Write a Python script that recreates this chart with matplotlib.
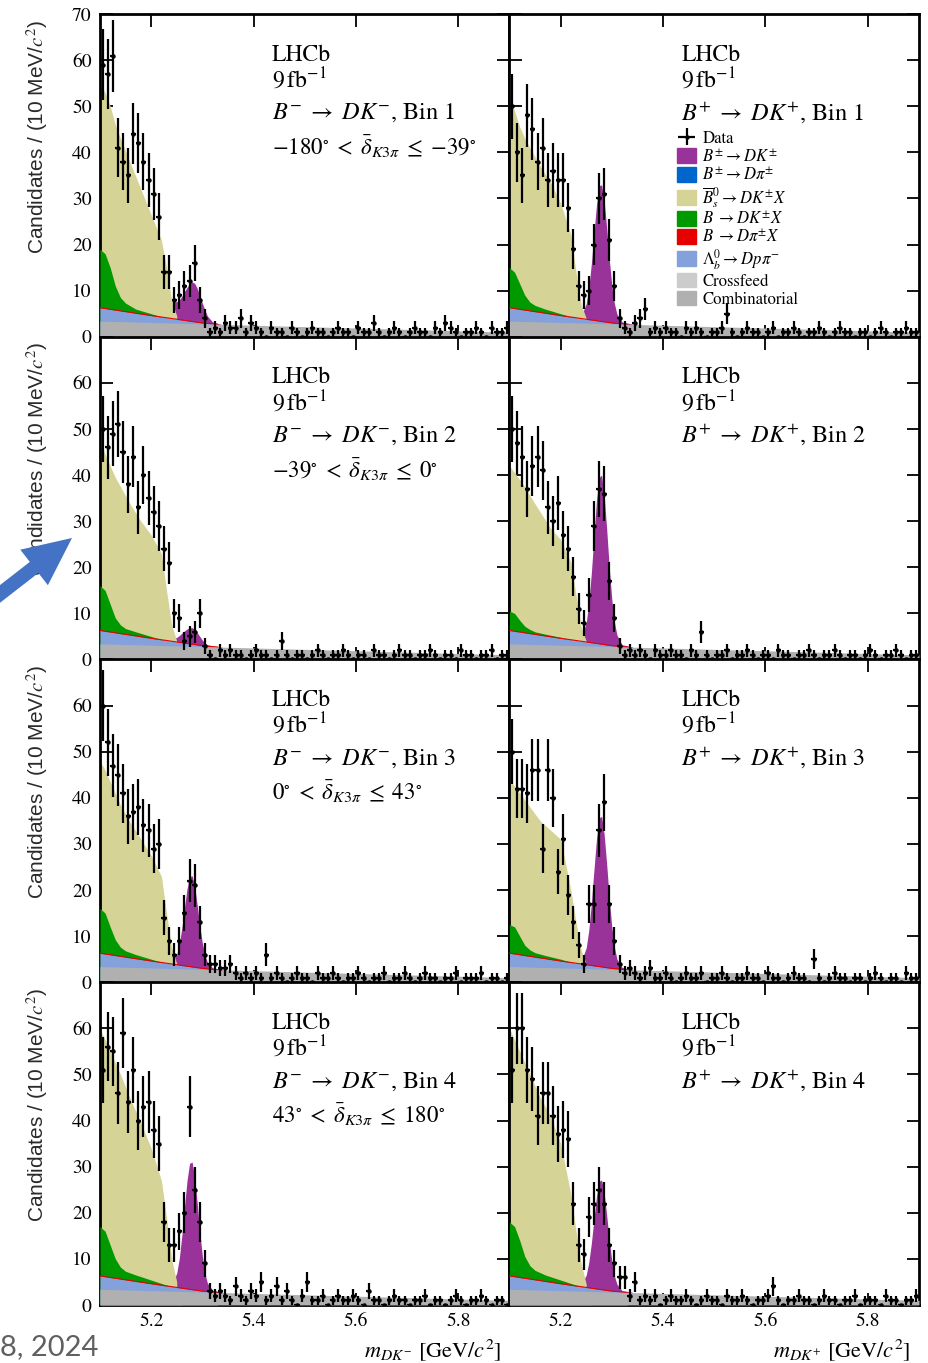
import numpy as np
import matplotlib
matplotlib.use("Agg")
import matplotlib.pyplot as plt
from matplotlib.patches import Patch, FancyArrow

plt.rcParams['font.family'] = 'STIXGeneral'
plt.rcParams['mathtext.fontset'] = 'stix'

# 80 bins of 10 MeV between 5.1 and 5.9 GeV
bin_centres = np.round(np.arange(5.105, 5.9, 0.01), 3)

# data counts per bin
counts_m1 = [59, 57, 61, 41, 38, 35, 44, 42, 38, 34,
             31, 26, 14, 14, 8, 9, 11, 12, 16, 8,
             4, 1, 2, 1, 3, 2, 2, 4, 1, 3,
             2, 1, 0, 2, 1, 1, 0, 2, 1, 0,
             1, 2, 1, 1, 0, 1, 2, 1, 1, 0,
             2, 1, 1, 3, 1, 0, 1, 2, 1, 0,
             1, 2, 1, 1, 0, 2, 1, 3, 2, 1,
             0, 1, 1, 2, 1, 0, 2, 1, 1, 2]
counts_p1 = [50, 40, 35, 48, 45, 38, 41, 34, 36, 34,
             34, 28, 19, 11, 9, 10, 20, 30, 31, 21,
             11, 4, 2, 1, 3, 4, 6, 1, 2, 1,
             2, 1, 1, 0, 2, 1, 2, 1, 0, 1,
             1, 2, 5, 1, 0, 1, 2, 1, 1, 0,
             1, 2, 0, 1, 1, 2, 1, 0, 1, 1,
             2, 1, 0, 1, 2, 1, 1, 0, 1, 1,
             0, 1, 2, 1, 0, 1, 1, 2, 1, 1]
counts_m2 = [50, 46, 49, 51, 45, 38, 44, 33, 40, 35,
             32, 29, 24, 21, 10, 9, 4, 5, 6, 10,
             3, 1, 0, 2, 1, 2, 1, 1, 0, 1,
             2, 1, 1, 0, 1, 4, 1, 0, 1, 1,
             0, 1, 2, 1, 0, 1, 1, 2, 1, 0,
             1, 1, 0, 2, 1, 1, 0, 1, 2, 1,
             1, 0, 1, 1, 2, 1, 0, 1, 1, 0,
             2, 1, 1, 0, 1, 1, 2, 0, 1, 1]
counts_p2 = [50, 47, 44, 37, 42, 44, 41, 33, 30, 34,
             27, 24, 18, 11, 8, 14, 29, 37, 36, 17,
             9, 3, 1, 2, 1, 2, 1, 0, 2, 1,
             1, 2, 1, 1, 0, 2, 1, 6, 1, 0,
             1, 1, 2, 0, 1, 1, 2, 1, 0, 1,
             1, 0, 2, 1, 1, 0, 1, 1, 2, 1,
             0, 1, 1, 2, 1, 0, 1, 1, 0, 1,
             2, 1, 0, 1, 1, 2, 1, 0, 1, 1]
counts_m3 = [60, 52, 47, 45, 41, 36, 37, 38, 34, 33,
             29, 30, 14, 9, 6, 9, 15, 22, 21, 13,
             6, 4, 4, 3, 3, 4, 2, 1, 2, 1,
             2, 1, 6, 1, 2, 1, 0, 1, 2, 1,
             1, 0, 2, 1, 1, 2, 1, 0, 1, 1,
             2, 1, 0, 1, 1, 2, 0, 1, 1, 2,
             1, 0, 1, 2, 1, 1, 0, 1, 1, 2,
             0, 1, 1, 1, 2, 0, 1, 1, 0, 1]
counts_p3 = [50, 42, 42, 41, 46, 46, 29, 46, 40, 24,
             31, 19, 13, 8, 4, 17, 17, 33, 39, 17,
             9, 4, 2, 3, 2, 1, 2, 3, 1, 1,
             2, 1, 0, 1, 2, 1, 1, 2, 0, 1,
             1, 2, 1, 0, 1, 1, 2, 1, 1, 0,
             2, 1, 1, 0, 1, 2, 1, 1, 0, 5,
             1, 0, 1, 2, 1, 1, 0, 1, 1, 0,
             1, 2, 1, 0, 1, 1, 0, 2, 1, 1]
counts_m4 = [51, 56, 55, 46, 59, 44, 51, 40, 43, 44,
             38, 35, 18, 13, 13, 16, 20, 43, 25, 18,
             9, 3, 2, 3, 2, 1, 4, 2, 1, 3,
             2, 5, 1, 2, 4, 1, 3, 1, 0, 2,
             5, 1, 1, 2, 0, 1, 2, 1, 1, 2,
             1, 0, 3, 1, 1, 0, 1, 2, 1, 1,
             0, 1, 1, 2, 0, 1, 1, 0, 1, 2,
             1, 0, 1, 1, 2, 1, 0, 1, 1, 0]
counts_p4 = [51, 60, 60, 51, 49, 41, 46, 46, 41, 37,
             38, 36, 22, 13, 11, 19, 22, 25, 22, 13,
             9, 6, 6, 2, 5, 1, 2, 1, 2, 0,
             1, 2, 1, 1, 2, 1, 0, 1, 2, 1,
             1, 0, 2, 1, 1, 2, 1, 0, 1, 1,
             2, 4, 1, 0, 1, 1, 2, 1, 1, 0,
             1, 2, 1, 1, 0, 1, 1, 2, 0, 1,
             1, 1, 0, 2, 1, 1, 0, 1, 1, 2]

# fit components, cumulative height of each layer
bg_x = [5.10, 5.11, 5.12, 5.13, 5.14, 5.16, 5.18, 5.20, 5.22, 5.23, 5.24, 5.25]
yellow_m1 = [55, 53, 50, 46, 43, 37.5, 32, 26.5, 21, 15, 8, 4.5]
yellow_p1 = [52, 49, 45.5, 43, 41, 37, 33.5, 29, 22, 14, 7, 4]
yellow_m2 = [47.5, 44.5, 42, 39.5, 37.5, 33.5, 30, 27, 23, 15, 7.5, 4]
yellow_p2 = [42, 40.5, 39, 37.5, 35.5, 32, 28.5, 26, 21, 14, 7, 4]
yellow_m3 = [48, 46, 43.5, 41, 38.5, 34.5, 31, 27.5, 23, 15, 7.5, 4]
yellow_p3 = [44, 42.5, 41, 39.5, 38, 35, 33, 31, 20, 13, 7, 4]
yellow_m4 = [60, 57.5, 55, 52.5, 50, 44.5, 39.5, 34, 27, 19, 10, 5]
yellow_p4 = [60, 57.5, 55, 52.5, 50, 45, 41, 35, 24, 16, 9, 4.5]

green_x = [5.10, 5.11, 5.12, 5.13, 5.14, 5.15, 5.17, 5.20, 5.23, 5.26]
green_m1 = [19, 18, 15, 11, 8.5, 7.3, 6.0, 5.0, 4.0, 3.2]
green_p1 = [15, 14, 11.5, 9, 7.5, 6.8, 6.0, 5.0, 4.0, 3.2]
green_m2 = [16, 15, 12, 9, 7.5, 6.7, 6.0, 5.0, 4.0, 3.2]
green_p2 = [10.5, 10, 8.5, 7.2, 6.5, 6.0, 5.5, 4.8, 4.0, 3.2]
green_m3 = [16, 15, 12, 9.2, 7.6, 6.8, 6.0, 5.0, 4.0, 3.2]
green_p3 = [12.5, 12, 10, 8, 7, 6.4, 5.8, 5.0, 4.0, 3.2]
green_m4 = [17, 16, 13, 10, 8.2, 7.3, 6.5, 5.4, 4.3, 3.4]
green_p4 = [18, 17, 14, 10.5, 8.5, 7.5, 6.5, 5.4, 4.3, 3.4]

peak_x = [5.23, 5.24, 5.25, 5.255, 5.26, 5.265, 5.27, 5.275, 5.28,
          5.285, 5.29, 5.295, 5.30, 5.305, 5.31, 5.32, 5.34]
peak_m1 = [0, 7.5, 7.6, 8.0, 8.8, 9.8, 10.7, 11.5, 11.9, 11.6, 10.5, 9.0, 7.3, 5.8, 4.5, 3.2, 2.6]
peak_p1 = [0, 4.4, 7.2, 10.6, 15.9, 22.4, 28.6, 32.7, 33.0, 29.5, 23.5, 16.8, 11.1, 7.2, 4.9, 3.2, 2.75]
peak_m2 = [0, 4.5, 4.8, 5.2, 5.7, 6.2, 6.6, 6.9, 6.9, 6.5, 5.8, 5.0, 4.2, 3.6, 3.2, 2.9, 2.6]
peak_p2 = [0, 4.5, 8.0, 12.3, 18.8, 26.8, 34.5, 39.5, 40.0, 35.6, 28.2, 19.9, 13.0, 8.1, 5.3, 3.2, 2.75]
peak_m3 = [0, 4.2, 6.0, 8.3, 11.8, 16.1, 20.2, 22.9, 23.1, 20.8, 16.7, 12.2, 8.5, 5.8, 4.3, 3.1, 2.75]
peak_p3 = [0, 4.4, 7.5, 11.3, 17.1, 24.3, 31.1, 35.6, 36.0, 32.1, 25.5, 18.1, 11.9, 7.6, 5.0, 3.2, 2.75]
peak_m4 = [0, 4.3, 6.9, 10.1, 15.1, 21.1, 26.9, 30.7, 31.0, 27.8, 22.1, 15.9, 10.6, 6.9, 4.7, 3.2, 2.75]
peak_p4 = [0, 4.3, 6.5, 9.2, 13.4, 18.6, 23.6, 26.8, 27.1, 24.3, 19.4, 14.0, 9.5, 6.3, 4.5, 3.1, 2.75]

lb_x = [5.10, 5.20, 5.30, 5.33]
lb_top = [6.3, 4.6, 3.0, 2.7]
comb_x = [5.10, 5.90]
comb_top = [3.4, 1.0]

bin_labels = [r'$-180^{\circ}\;<\;\bar{\delta}_{K3\pi}\;\leq\;{-39}^{\circ}$',
              r'$-39^{\circ}\;<\;\bar{\delta}_{K3\pi}\;\leq\;0^{\circ}$',
              r'$0^{\circ}\;<\;\bar{\delta}_{K3\pi}\;\leq\;43^{\circ}$',
              r'$43^{\circ}\;<\;\bar{\delta}_{K3\pi}\;\leq\;180^{\circ}$']

c_sig = '#993399'
c_dpi = '#0066cc'
c_part = '#d6d396'
c_dkx = '#009900'
c_dpix = '#e60000'
c_lb = '#84a1db'
c_cross = '#cccccc'
c_comb = '#b0b0b0'

panels = [
    (0, 0, counts_m1, yellow_m1, green_m1, peak_m1, '-', 1),
    (0, 1, counts_p1, yellow_p1, green_p1, peak_p1, '+', 1),
    (1, 0, counts_m2, yellow_m2, green_m2, peak_m2, '-', 2),
    (1, 1, counts_p2, yellow_p2, green_p2, peak_p2, '+', 2),
    (2, 0, counts_m3, yellow_m3, green_m3, peak_m3, '-', 3),
    (2, 1, counts_p3, yellow_p3, green_p3, peak_p3, '+', 3),
    (3, 0, counts_m4, yellow_m4, green_m4, peak_m4, '-', 4),
    (3, 1, counts_p4, yellow_p4, green_p4, peak_p4, '+', 4),
]

fig, axes = plt.subplots(4, 2, figsize=(9.29, 13.63), dpi=100, sharex=True,
                         gridspec_kw=dict(hspace=0, wspace=0))
fig.subplots_adjust(left=0.1076, right=0.9892, top=0.9897, bottom=0.0426)

data_handle = None
for row, col, counts, yellow, green, peak, charge, nbin in panels:
    ax = axes[row, col]
    counts = np.array(counts, dtype=float)
    # painter's order: each layer drawn from zero, lower layers on top
    ax.fill_between(peak_x, 0, peak, color=c_sig, lw=0, zorder=1)
    ax.fill_between(bg_x, 0, yellow, color=c_part, lw=0, zorder=2)
    ax.fill_between(green_x, 0, green, color=c_dkx, lw=0, zorder=3)
    ax.fill_between(lb_x, 0, lb_top, color=c_lb, lw=0, zorder=4)
    ax.plot(lb_x, lb_top, color=c_dpix, lw=0.8, zorder=5)
    ax.fill_between(comb_x, 0, comb_top, color=c_comb, lw=0, zorder=6)

    eb = ax.errorbar(bin_centres, counts, yerr=np.sqrt(counts), xerr=0.005,
                     fmt='o', ms=2.2, color='k', ecolor='k', elinewidth=1.6,
                     capsize=0, zorder=10)
    if row == 0 and col == 1:
        data_handle = eb

    ax.set_xlim(5.1, 5.9)
    ax.set_ylim(0, 70)
    ax.set_xticks([5.2, 5.4, 5.6, 5.8])
    ax.set_xticklabels(['5.2', '5.4', '5.6', '5.8'])
    ax.set_yticks(range(0, 71, 10))
    if row == 0:
        ax.set_yticklabels([str(v) for v in range(0, 71, 10)])
    else:
        ax.set_yticklabels([str(v) for v in range(0, 61, 10)] + [''])
    ax.tick_params(direction='in', length=9, width=1.3, top=True, right=True,
                   labelsize=14, pad=6)
    if col == 1:
        ax.tick_params(labelleft=False)
    for s in ax.spines.values():
        s.set_linewidth(2)

    ax.text(0.42, 0.873, 'LHCb', transform=ax.transAxes, fontsize=17, va='center')
    ax.text(0.42, 0.796, r'$9\,\mathrm{fb}^{-1}$', transform=ax.transAxes,
            fontsize=17, va='center')
    ax.text(0.42, 0.693, r'$B^{%s}\;\to\;DK^{%s}$, Bin %d' % (charge, charge, nbin),
            transform=ax.transAxes, fontsize=17.5, va='center')
    if col == 0:
        ax.text(0.42, 0.588, bin_labels[row], transform=ax.transAxes,
                fontsize=16.5, va='center')
        ax.set_ylabel('Candidates / (10 MeV/$c^{2}$)', fontfamily='Liberation Sans',
                      fontsize=15, color='#2a2a2a')
        ax.yaxis.set_label_coords(-0.122, 0.62)

axes[3, 0].set_xlabel(r'$m_{DK^{-}}$ [GeV/$c^{2}$]', fontsize=16, loc='right')
axes[3, 0].xaxis.set_label_coords(0.98, -0.1)
axes[3, 1].set_xlabel(r'$m_{DK^{+}}$ [GeV/$c^{2}$]', fontsize=16, loc='right')
axes[3, 1].xaxis.set_label_coords(0.98, -0.1)

handles = [data_handle,
           Patch(color=c_sig), Patch(color=c_dpi), Patch(color=c_part),
           Patch(color=c_dkx), Patch(color=c_dpix), Patch(color=c_lb),
           Patch(color=c_cross), Patch(color=c_comb)]
labels = ['Data',
          r'$B^{\pm}\to DK^{\pm}$',
          r'$B^{\pm}\to D\pi^{\pm}$',
          r'$\overline{B}^{0}_{s}\to DK^{\pm}X$',
          r'$B\ \to DK^{\pm}X$',
          r'$B\ \to D\pi^{\pm}X$',
          r'$\Lambda^{0}_{b}\to Dp\pi^{-}$',
          'Crossfeed',
          'Combinatorial']
axes[0, 1].legend(handles, labels, loc='upper left', bbox_to_anchor=(0.41, 0.64),
                  frameon=False, fontsize=12, labelspacing=0.05, handlelength=1.1,
                  handleheight=1.0, handletextpad=0.4, borderpad=0, borderaxespad=0)

# slide overlay: arrow and footer date, in pixel coordinates
over = fig.add_axes([0, 0, 1, 1])
over.set_xlim(0, 929)
over.set_ylim(1363, 0)
over.axis('off')
over.patch.set_alpha(0)
over.add_patch(FancyArrow(-10, 601.7, 82, -63.7, width=14, head_width=45,
                          head_length=48, length_includes_head=True,
                          color='#4472c4', lw=0))
over.text(0, 1347, '8, 2024', fontfamily='Lato', fontsize=21, color='#606060',
          ha='left', va='center')

fig.savefig('out.png', dpi=100)
